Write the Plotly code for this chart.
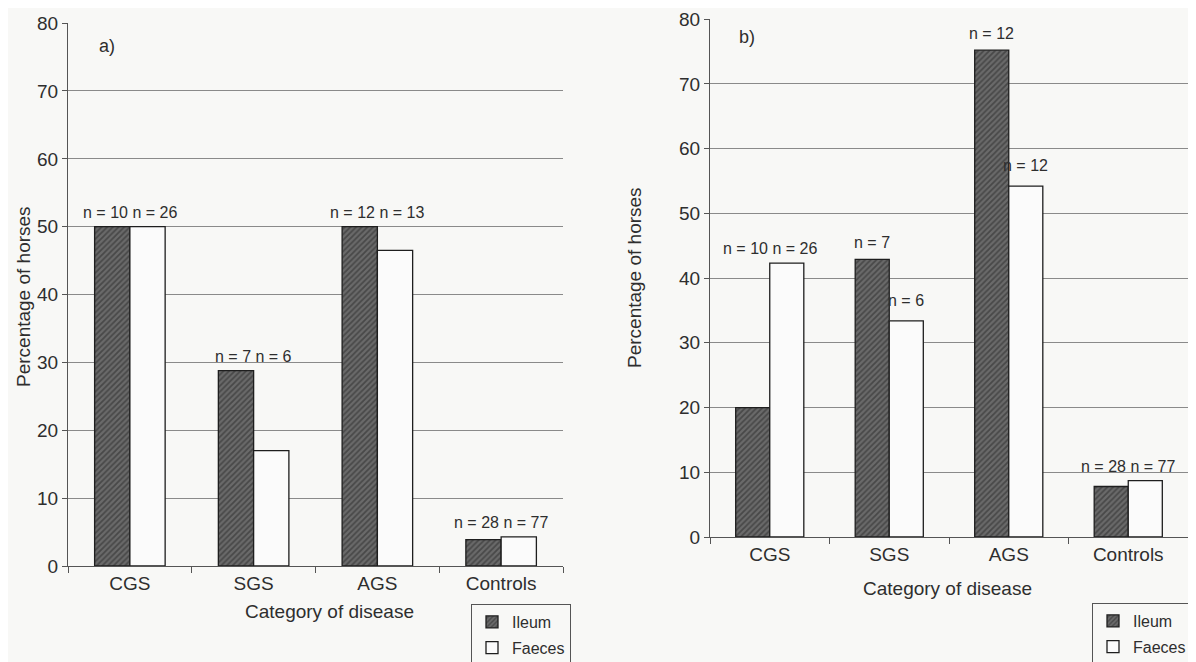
import plotly.graph_objects as go

# ---------------- data ----------------
categories = ["CGS", "SGS", "AGS", "Controls"]
series_names = ["Ileum", "Faeces"]

a_ileum = [50.0, 28.8, 50.0, 3.9]
a_faeces = [50.0, 17.0, 46.5, 4.3]
a_ileum_n = [10, 7, 12, 28]
a_faeces_n = [26, 6, 13, 77]
a_label_mode = ["pair", "pair", "pair", "pair"]

b_ileum = [20.0, 42.9, 75.2, 7.8]
b_faeces = [42.3, 33.4, 54.2, 8.7]
b_ileum_n = [10, 7, 12, 28]
b_faeces_n = [26, 6, 12, 77]
b_label_mode = ["pair", "each", "each", "pair"]

y_ticks = [0, 10, 20, 30, 40, 50, 60, 70, 80]
panel_labels = ["a)", "b)"]
x_title = "Category of disease"
y_title = "Percentage of horses"

# ---------------- style ----------------
W, H = 1196, 662
OFF = 8  # page body margin
FONT = "Liberation Sans, Arial, Helvetica, sans-serif"
TXT = "#2e2e2e"
BG = "#f8f8f6"
GRID = "#8a8a8a"
BARGAP = 0.43


def px_x(p):
    return (p - OFF) / W


def px_y(p):
    return (H - (p - OFF)) / H


ileum_marker = dict(
    color="#6a6a6a",
    line=dict(color="#1e1e1e", width=1.3),
    pattern=dict(shape="/", bgcolor="#6a6a6a", fgcolor="#262626", size=4, solidity=0.45),
)
faeces_marker = dict(color="#fbfbfb", line=dict(color="#1e1e1e", width=1.3))

fig = go.Figure()

panels = [
    dict(ile=a_ileum, fae=a_faeces, ile_n=a_ileum_n, fae_n=a_faeces_n, mode=a_label_mode,
         xa="x", ya="y", legend="legend"),
    dict(ile=b_ileum, fae=b_faeces, ile_n=b_ileum_n, fae_n=b_faeces_n, mode=b_label_mode,
         xa="x2", ya="y2", legend="legend2"),
]

annotations = []
offset = (1 - BARGAP) / 4
for k, p in enumerate(panels):
    fig.add_trace(go.Bar(x=categories, y=p["ile"], name=series_names[0], marker=ileum_marker,
                         xaxis=p["xa"], yaxis=p["ya"], legend=p["legend"],
                         legendgroup=f"ile{k}", hoverinfo="x+y"))
    fig.add_trace(go.Bar(x=categories, y=p["fae"], name=series_names[1], marker=faeces_marker,
                         xaxis=p["xa"], yaxis=p["ya"], legend=p["legend"],
                         legendgroup=f"fae{k}", hoverinfo="x+y"))
    for i, cat in enumerate(categories):
        if p["mode"][i] == "pair":
            annotations.append(dict(
                x=i, y=max(p["ile"][i], p["fae"][i]), xref=p["xa"], yref=p["ya"],
                text=f"n = {p['ile_n'][i]} n = {p['fae_n'][i]}", showarrow=False,
                xanchor="center", yanchor="bottom", yshift=4,
                font=dict(family=FONT, size=16, color=TXT)))
        else:
            annotations.append(dict(
                x=i - offset, y=p["ile"][i], xref=p["xa"], yref=p["ya"],
                text=f"n = {p['ile_n'][i]}", showarrow=False,
                xanchor="center", yanchor="bottom", yshift=6,
                font=dict(family=FONT, size=16, color=TXT)))
            annotations.append(dict(
                x=i + offset, y=p["fae"][i], xref=p["xa"], yref=p["ya"],
                text=f"n = {p['fae_n'][i]}", showarrow=False,
                xanchor="center", yanchor="bottom", yshift=10,
                font=dict(family=FONT, size=16, color=TXT)))

# titles / panel labels as text
for (tx, ty) in [(329, 611), (947, 588)]:
    annotations.append(dict(x=px_x(tx), y=px_y(ty), xref="paper", yref="paper", text=x_title,
                            xanchor="center", yanchor="middle", showarrow=False,
                            font=dict(family=FONT, size=19, color=TXT)))
for (tx, ty) in [(23, 297), (634, 278)]:
    annotations.append(dict(x=px_x(tx), y=px_y(ty), xref="paper", yref="paper", text=y_title,
                            textangle=-90, xanchor="center", yanchor="middle", showarrow=False,
                            font=dict(family=FONT, size=19, color=TXT)))
for lab, (tx, ty) in zip(panel_labels, [(107, 46), (747, 37)]):
    annotations.append(dict(x=px_x(tx), y=px_y(ty), xref="paper", yref="paper", text=lab,
                            xanchor="center", yanchor="middle", showarrow=False,
                            font=dict(family=FONT, size=18, color=TXT)))

xaxis_common = dict(
    type="category", range=[-0.5, 3.5], tickson="boundaries", ticks="outside", ticklen=6,
    tickcolor="#555", showline=True, linecolor="#555", linewidth=1.2, showgrid=False,
    zeroline=False, tickfont=dict(family=FONT, size=19, color=TXT),
)
yaxis_common = dict(
    range=[0, 80.02], tickvals=y_ticks, ticks="outside", ticklen=5, tickcolor="#555",
    showline=True, linecolor="#555", linewidth=1.2, showgrid=True, gridcolor=GRID,
    gridwidth=1, zeroline=False, ticklabeloverflow="allow",
    tickfont=dict(family=FONT, size=19, color=TXT),
)

legend_common = dict(
    bgcolor="rgba(0,0,0,0)", bordercolor="#555", borderwidth=1,
    font=dict(family=FONT, size=16, color=TXT), traceorder="grouped", tracegroupgap=2,
    xanchor="left", yanchor="top", itemclick=False, itemdoubleclick=False,
)

fig.update_layout(
    width=W, height=H,
    margin=dict(l=0, r=0, t=0, b=0, autoexpand=False),
    paper_bgcolor=BG, plot_bgcolor="rgba(0,0,0,0)",
    barmode="group", bargap=BARGAP, bargroupgap=0,
    showlegend=True,
    font=dict(family=FONT, color=TXT),
    xaxis=dict(domain=[px_x(68), px_x(563)], anchor="y", **xaxis_common),
    yaxis=dict(domain=[px_y(566), px_y(23)], anchor="x", **yaxis_common),
    xaxis2=dict(domain=[px_x(710), px_x(1188)], anchor="y2", **xaxis_common),
    yaxis2=dict(domain=[px_y(537), px_y(19)], anchor="x2", **yaxis_common),
    legend=dict(x=px_x(471), y=px_y(604), **legend_common),
    legend2=dict(x=px_x(1092), y=px_y(603), **legend_common),
    annotations=annotations,
)

fig.write_html("out.html")
